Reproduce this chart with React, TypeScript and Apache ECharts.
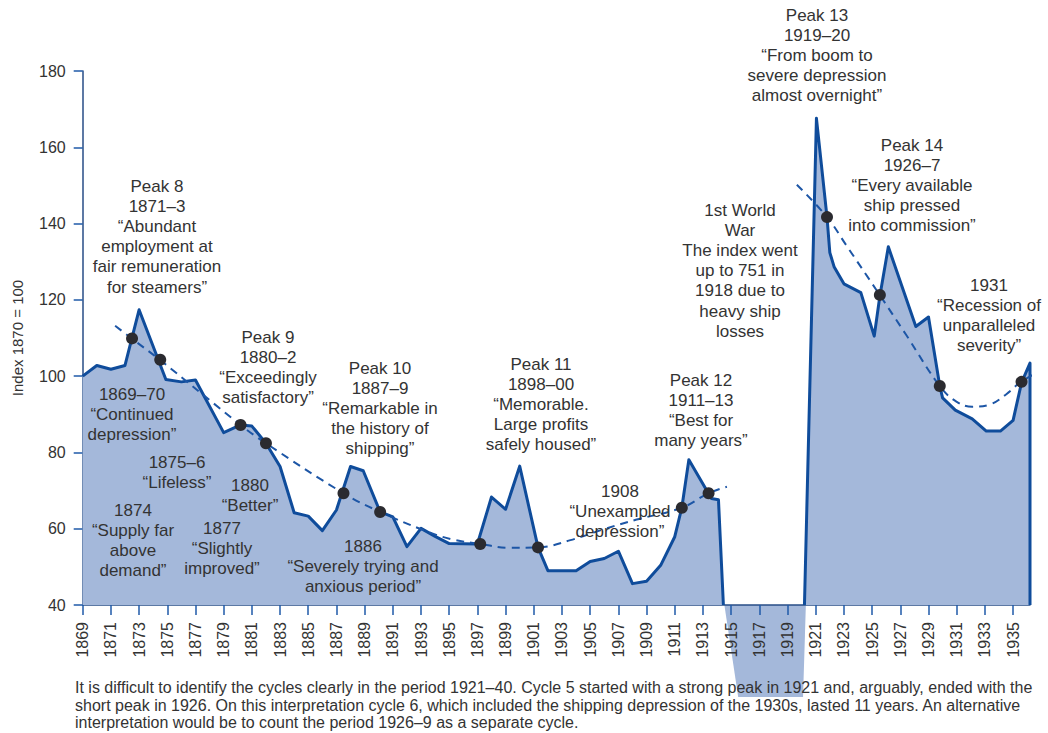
import React, { useEffect, useRef } from "react";
import * as echarts from "echarts";

// ---- Data ----
const mainYears = [
  1869, 1870, 1871, 1872, 1873, 1874.9, 1876, 1877, 1879, 1880.2, 1881, 1882, 1883, 1884, 1885, 1886, 1887,
  1888, 1888.9, 1890.1, 1891, 1892, 1893, 1894, 1895, 1897, 1898, 1899, 1900, 1901.3, 1902, 1904, 1905,
  1906, 1907, 1908, 1909, 1910, 1911, 1911.5, 1912, 1913.6, 1914.1, 1914.45, 1917, 1920.2, 1921.05,
  1921.8, 1922, 1922.3, 1923, 1924.2, 1925.15, 1925.55, 1926.15, 1928.1, 1929, 1929.8, 1930, 1930.9,
  1932.1, 1933.1, 1934.1, 1935, 1935.6, 1936.2, 1936.2,
];
const mainValues = [
  100, 102.8, 101.8, 102.8, 117.4, 99.1, 98.5, 99, 85.2, 87.2, 86.9, 82.4, 76.3, 64.2, 63.3, 59.5, 64.9,
  76.3, 75.2, 64.4, 63.1, 55.3, 60.1, 58, 56.1, 56, 68.3, 65.1, 76.4, 55.1, 49, 49, 51.4,
  52.2, 54.1, 45.6, 46.2, 50.4, 57.9, 65.5, 78.1, 67.9, 67.6, 40, null, 40, 167.6,
  141.7, 132.4, 128.7, 124.2, 121.9, 110.5, 121, 133.9, 113, 115.5, 97.4, 94.3, 91.1,
  88.8, 85.6, 85.6, 88.4, 98.3, 103.4, 40,
];

// war-gap fill that spills below the axis in the reference
const gapYears = [1914.52, 1915.5, 1920.1, 1920.3];
const gapValues = [40, 15.9, 15.9, 40];

const trend1Years = [1871.3, 1872.5, 1874.5, 1880.2, 1882, 1887.5, 1890.1, 1893.2, 1895.1, 1897.2, 1899.3, 1901.3, 1903.6, 1905.9, 1908.3, 1911.5, 1913.4, 1914.7];
const trend1Values = [113.2, 109.8, 104.2, 87.2, 82.4, 69.3, 64.4, 59.6, 57.3, 56, 55, 55.1, 57, 59.8, 62.4, 65.5, 69.3, 71];

const trend2Years = [1919.66, 1921.8, 1923.15, 1925.5, 1927.4, 1929.8, 1930.95, 1932.1, 1933.3, 1934.5, 1935.6, 1937.2];
const trend2Values = [150.2, 141.7, 134.4, 121.5, 110.9, 97.4, 93.4, 92, 92.5, 95.2, 98.6, 101.8];

const dotYears = [1872.5, 1874.5, 1880.2, 1882, 1887.5, 1890.1, 1897.2, 1901.3, 1911.5, 1913.4, 1921.8, 1925.55, 1929.8, 1935.6];
const dotValues = [109.9, 104.3, 87.2, 82.4, 69.3, 64.4, 56, 55.1, 65.5, 69.3, 141.7, 121.3, 97.4, 98.5];

const yAxisTitle = "Index 1870 = 100";

const annotationTexts = [
  ["Peak 8", "1871–3", "“Abundant", "employment at", "fair remuneration", "for steamers”"],
  ["1869–70", "“Continued", "depression”"],
  ["1875–6", "“Lifeless”"],
  ["1874", "“Supply far", "above", "demand”"],
  ["1877", "“Slightly", "improved”"],
  ["1880", "“Better”"],
  ["Peak 9", "1880–2", "“Exceedingly", "satisfactory”"],
  ["Peak 10", "1887–9", "“Remarkable in", "the history of", "shipping”"],
  ["1886", "“Severely trying and", "anxious period”"],
  ["Peak 11", "1898–00", "“Memorable.", "Large profits", "safely housed”"],
  ["1908", "“Unexampled", "depression”"],
  ["Peak 12", "1911–13", "“Best for", "many years”"],
  ["1st World", "War", "The index went", "up to 751 in", "1918 due to", "heavy ship", "losses"],
  ["Peak 13", "1919–20", "“From boom to", "severe depression", "almost overnight”"],
  ["Peak 14", "1926–7", "“Every available", "ship pressed", "into commission”"],
  ["1931", "“Recession of", "unparalleled", "severity”"],
];

const captionLines = [
  "It is difficult to identify the cycles clearly in the period 1921–40. Cycle 5 started with a strong peak in 1921 and, arguably, ended with the",
  "short peak in 1926. On this interpretation cycle 6, which included the shipping depression of the 1930s, lasted 11 years. An alternative",
  "interpretation would be to count the period 1926–9 as a separate cycle.",
];

// ---- Layout (pixel positions of annotation blocks: centre x, centre of first line y) ----
const annotationLayout: [number, number][] = [
  [157, 186], [132, 394], [177, 462], [133, 510], [222, 528], [250, 485], [268, 337], [380, 368],
  [363, 546], [541, 364], [620, 491], [701, 380], [740, 210], [817, 15], [912, 145], [989, 285],
];

const FONT = '"Liberation Sans", Arial, Helvetica, sans-serif';
const TEXT = "#333333";
const LINE = "#0f4c9b";
const FILL = "#a4b8da";
const AXIS = "#274d86";
const TICK = "#1f5aa8";

const zip = (xs: number[], ys: (number | null)[]) => xs.map((x, i) => [x, ys[i]]);

export default function App() {
  const ref = useRef<HTMLDivElement>(null);

  useEffect(() => {
    if (!ref.current) return;
    const chart = echarts.init(ref.current, null, { renderer: "svg" });
    const ANN_LH = 20.2;
    const graphics: any[] = annotationTexts.map((lines, i) => ({
      type: "text",
      z: 10,
      style: {
        text: lines.join("\n"),
        x: annotationLayout[i][0],
        y: annotationLayout[i][1] - ANN_LH / 2,
        font: `17px ${FONT}`,
        lineHeight: ANN_LH,
        align: "center",
        textAlign: "center",
        verticalAlign: "top",
        textVerticalAlign: "top",
        fill: TEXT,
      },
    }));
    graphics.push({
      type: "text",
      z: 10,
      style: {
        text: captionLines.join("\n"),
        x: 75,
        y: 679,
        font: `16px ${FONT}`,
        lineHeight: 17.5,
        align: "left",
        textAlign: "left",
        verticalAlign: "top",
        textVerticalAlign: "top",
        fill: TEXT,
      },
    });

    chart.setOption({
      animation: false,
      backgroundColor: "#ffffff",
      textStyle: { fontFamily: FONT },
      grid: { left: 82.7, right: 18, top: 71, bottom: 128, containLabel: false },
      xAxis: {
        type: "value",
        min: 1869,
        max: 1936.2,
        interval: 2,
        axisLine: { show: true, lineStyle: { color: AXIS, width: 1.5 } },
        axisTick: { show: true, length: 10, lineStyle: { color: TICK, width: 1.5 } },
        axisLabel: {
          rotate: 90,
          fontSize: 16,
          color: TEXT,
          margin: 17,
          fontFamily: FONT,
          showMaxLabel: false,
          formatter: (v: number) => String(v),
        },
        splitLine: { show: false },
      },
      yAxis: {
        type: "value",
        min: 40,
        max: 180,
        interval: 20,
        name: yAxisTitle,
        nameLocation: "middle",
        nameRotate: 90,
        nameGap: 58,
        nameTextStyle: { fontSize: 15, color: TEXT, fontFamily: FONT },
        axisLine: { show: true, lineStyle: { color: AXIS, width: 1.5 } },
        axisTick: { show: true, length: 9, lineStyle: { color: TICK, width: 1.5 } },
        axisLabel: { fontSize: 16, color: TEXT, margin: 17, fontFamily: FONT },
        splitLine: { show: false },
      },
      series: [
        {
          name: "gap",
          type: "line",
          data: zip(gapYears, gapValues),
          symbol: "none",
          clip: false,
          z: -1,
          lineStyle: { width: 0, color: FILL },
          areaStyle: { color: FILL, opacity: 1 },
          silent: true,
        },
        {
          name: "index",
          type: "line",
          data: zip(mainYears, mainValues),
          symbol: "none",
          connectNulls: false,
          z: 2,
          lineStyle: { color: LINE, width: 3, join: "round" },
          areaStyle: { color: FILL, opacity: 1, origin: "start" },
        },
        {
          name: "trend1",
          type: "line",
          data: zip(trend1Years, trend1Values),
          symbol: "none",
          smooth: 0.4,
          z: 3,
          lineStyle: { color: "#1d56a6", width: 2, type: [8, 6] },
        },
        {
          name: "trend2",
          type: "line",
          data: zip(trend2Years, trend2Values),
          symbol: "none",
          smooth: 0.4,
          clip: false,
          z: 3,
          lineStyle: { color: "#1d56a6", width: 2, type: [8, 6] },
        },
        {
          name: "points",
          type: "scatter",
          data: zip(dotYears, dotValues),
          symbol: "circle",
          symbolSize: 12,
          z: 4,
          itemStyle: { color: "#2b2b30", opacity: 1 },
        },
      ],
      graphic: graphics,
    });
    return () => chart.dispose();
  }, []);

  return (
    <div
      ref={ref}
      style={{ position: "fixed", left: 0, top: 0, width: 1048, height: 733, background: "#fff" }}
    />
  );
}
